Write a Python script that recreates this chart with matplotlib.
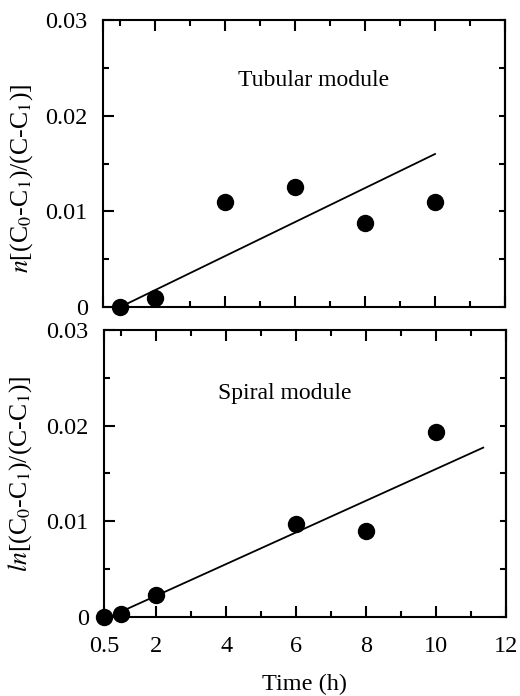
import matplotlib
matplotlib.use("Agg")
import matplotlib.pyplot as plt

plt.rcParams['font.family'] = ['Liberation Serif', 'DejaVu Serif']
plt.rcParams['mathtext.fontset'] = 'stix'

# tubular module
tub_time = [1, 2, 4, 6, 8, 10]
tub_val = [0.0, 0.0009, 0.011, 0.0125, 0.0088, 0.011]
tub_fit_x = [1.0, 10.0]
tub_fit_y = [0.0, 0.016]

# spiral module
spi_time = [0.5, 1, 2, 6, 8, 10]
spi_val = [0.0, 0.0003, 0.0023, 0.0097, 0.009, 0.0193]
spi_fit_x = [0.65, 11.35]
spi_fit_y = [0.0, 0.0177]

x_major = [0.5, 2, 4, 6, 8, 10, 12]
x_labels = ['0.5', '2', '4', '6', '8', '10', '12']
x_minor = [1, 3, 5, 7, 9, 11]
y_major = [0, 0.01, 0.02, 0.03]
y_labels = ['0', '0.01', '0.02', '0.03']
y_minor = [0.005, 0.015, 0.025]

fig = plt.figure(figsize=(5.2, 6.96), dpi=100)
ax1 = fig.add_axes([0.198, 0.559, 0.773, 0.412])
ax2 = fig.add_axes([0.200, 0.1135, 0.773, 0.4125])


def style(ax, show_x):
    ax.set_xlim(0.5, 12)
    ax.set_ylim(0, 0.03)
    ax.set_xticks(x_major)
    ax.set_xticks(x_minor, minor=True)
    ax.set_xticklabels(x_labels if show_x else [])
    ax.set_yticks(y_major)
    ax.set_yticks(y_minor, minor=True)
    ax.set_yticklabels(y_labels)
    ax.tick_params(which='both', direction='in', top=True, right=False,
                   width=1.5, labelsize=17.5)
    ax.tick_params(axis='x', which='both', pad=14)
    ax.tick_params(axis='y', which='both', pad=11)
    ax.tick_params(which='major', length=8)
    ax.tick_params(which='minor', length=4)
    for s in ax.spines.values():
        s.set_linewidth(1.5)
    sec = ax.secondary_yaxis('right')
    sec.set_yticks(y_major + y_minor)
    sec.tick_params(direction='in', length=4, width=1.5, labelright=False)
    sec.spines['right'].set_linewidth(1.5)


style(ax1, False)
style(ax2, True)

ax1.plot(tub_fit_x, tub_fit_y, color='black', lw=1.3)
ax1.plot(tub_time, tub_val, 'o', color='black', ms=11.5, clip_on=False)
ax1.text(4.35, 0.0237, 'Tubular module', fontsize=17, va='center')
ax1.set_ylabel(r'$\mathit{n}$[(C$_0$-C$_1$)/(C-C$_1$)]', fontsize=18.5)
ax1.yaxis.set_label_coords(-0.17, 0.45)

ax2.plot(spi_fit_x, spi_fit_y, color='black', lw=1.3)
ax2.plot(spi_time, spi_val, 'o', color='black', ms=11.5, clip_on=False)
ax2.text(3.77, 0.0234, 'Spiral module', fontsize=17, va='center')
ax2.set_ylabel(r'$\mathit{ln}$[(C$_0$-C$_1$)/(C-C$_1$)]', fontsize=18.5)
ax2.yaxis.set_label_coords(-0.175, 0.5)
ax2.set_xlabel('Time (h)', fontsize=17.5, labelpad=12)

fig.savefig('out.png', dpi=100)
